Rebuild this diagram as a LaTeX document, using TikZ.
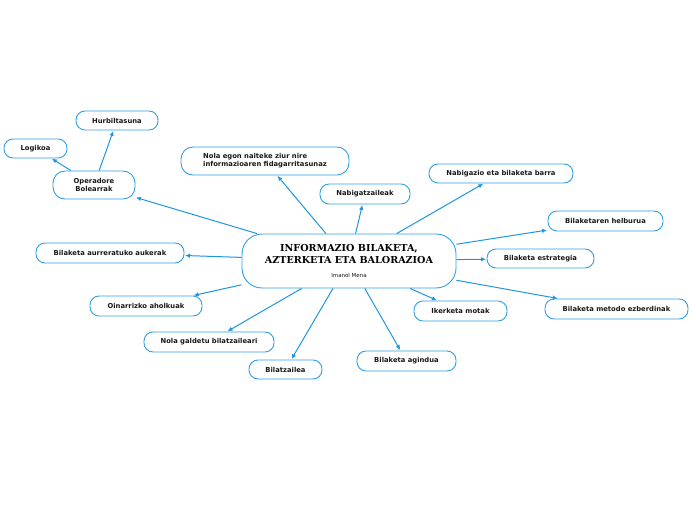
\documentclass[tikz,border=0pt]{standalone}
\usepackage{fontspec}
\setmainfont{DejaVu Sans}
\newfontfamily\titlefont{DejaVu Serif}
\usetikzlibrary{arrows.meta}
\definecolor{linkblue}{RGB}{30,150,222}
\definecolor{boxblue}{RGB}{50,160,228}
\definecolor{txt}{RGB}{25,25,25}
\tikzset{
  box/.style={draw=boxblue, line width=0.9pt, rounded corners=9pt, fill=white, inner sep=0pt,
    align=center, text=txt, font=\fontsize{6.8}{8.2}\selectfont\bfseries},
  link/.style={draw=linkblue, line width=1pt, -{Latex[length=5pt,width=4.5pt]}, shorten >=0.5pt}
}
\begin{document}
\begin{tikzpicture}[x=1pt,y=1pt]
\useasboundingbox (0,0) rectangle (696,520);
\node[box, rounded corners=20pt, minimum width=214pt, minimum height=54pt] (c) at (349,259) {};
\node[text=black, align=center, font=\titlefont\fontsize{9.6}{11.5}\selectfont\bfseries] (t) at (349,266) {INFORMAZIO BILAKETA,\\AZTERKETA ETA BALORAZIOA};
\node[text=txt, font=\fontsize{5.5}{6.5}\selectfont] (s) at (349,245) {Imanol Mena};

\node[box, minimum width=82pt, minimum height=19pt] (hurb) at (117,399.5) {Hurbiltasuna};
\node[box, minimum width=63pt, minimum height=19pt] (logi) at (35.5,371.5) {Logikoa};
\node[box, rounded corners=12pt, minimum width=82pt, minimum height=28pt] (oper) at (94,335) {Operadore\\Bolearrak};
\node[box, rounded corners=12pt, minimum width=168pt, minimum height=28pt, align=left] (nola) at (265,359) {Nola egon naiteke ziur nire\\informazioaren fidagarritasunaz};
\node[box, minimum width=90pt, minimum height=20pt] (nabt) at (365,326) {Nabigatzaileak};
\node[box, minimum width=144pt, minimum height=19pt] (nabb) at (501,346.5) {Nabigazio eta bilaketa barra};
\node[box, minimum width=115pt, minimum height=20pt] (helb) at (605.5,299) {Bilaketaren helburua};
\node[box, minimum width=107pt, minimum height=19pt] (estr) at (540.5,261.5) {Bilaketa estrategia};
\node[box, minimum width=143pt, minimum height=20pt] (meto) at (616.5,211) {Bilaketa metodo ezberdinak};
\node[box, minimum width=93pt, minimum height=20pt] (iker) at (460.5,209) {Ikerketa motak};
\node[box, minimum width=99pt, minimum height=20pt] (agin) at (406.5,159) {Bilaketa agindua};
\node[box, minimum width=73pt, minimum height=19pt] (bilt) at (285.5,150.5) {Bilatzailea};
\node[box, minimum width=130pt, minimum height=20pt] (galde) at (209,178) {Nola galdetu bilatzaileari};
\node[box, minimum width=112pt, minimum height=20pt] (oina) at (146,214) {Oinarrizko aholkuak};
\node[box, minimum width=148pt, minimum height=20pt] (aurr) at (110,267) {Bilaketa aurreratuko aukerak};

\foreach \n in {oper,nola,nabt,nabb,helb,estr,meto,iker,agin,bilt,galde,oina,aurr}
  \draw[link] (c) -- (\n);
\draw[link] (oper) -- (hurb);
\draw[link] (oper) -- (logi);
\end{tikzpicture}
\end{document}
